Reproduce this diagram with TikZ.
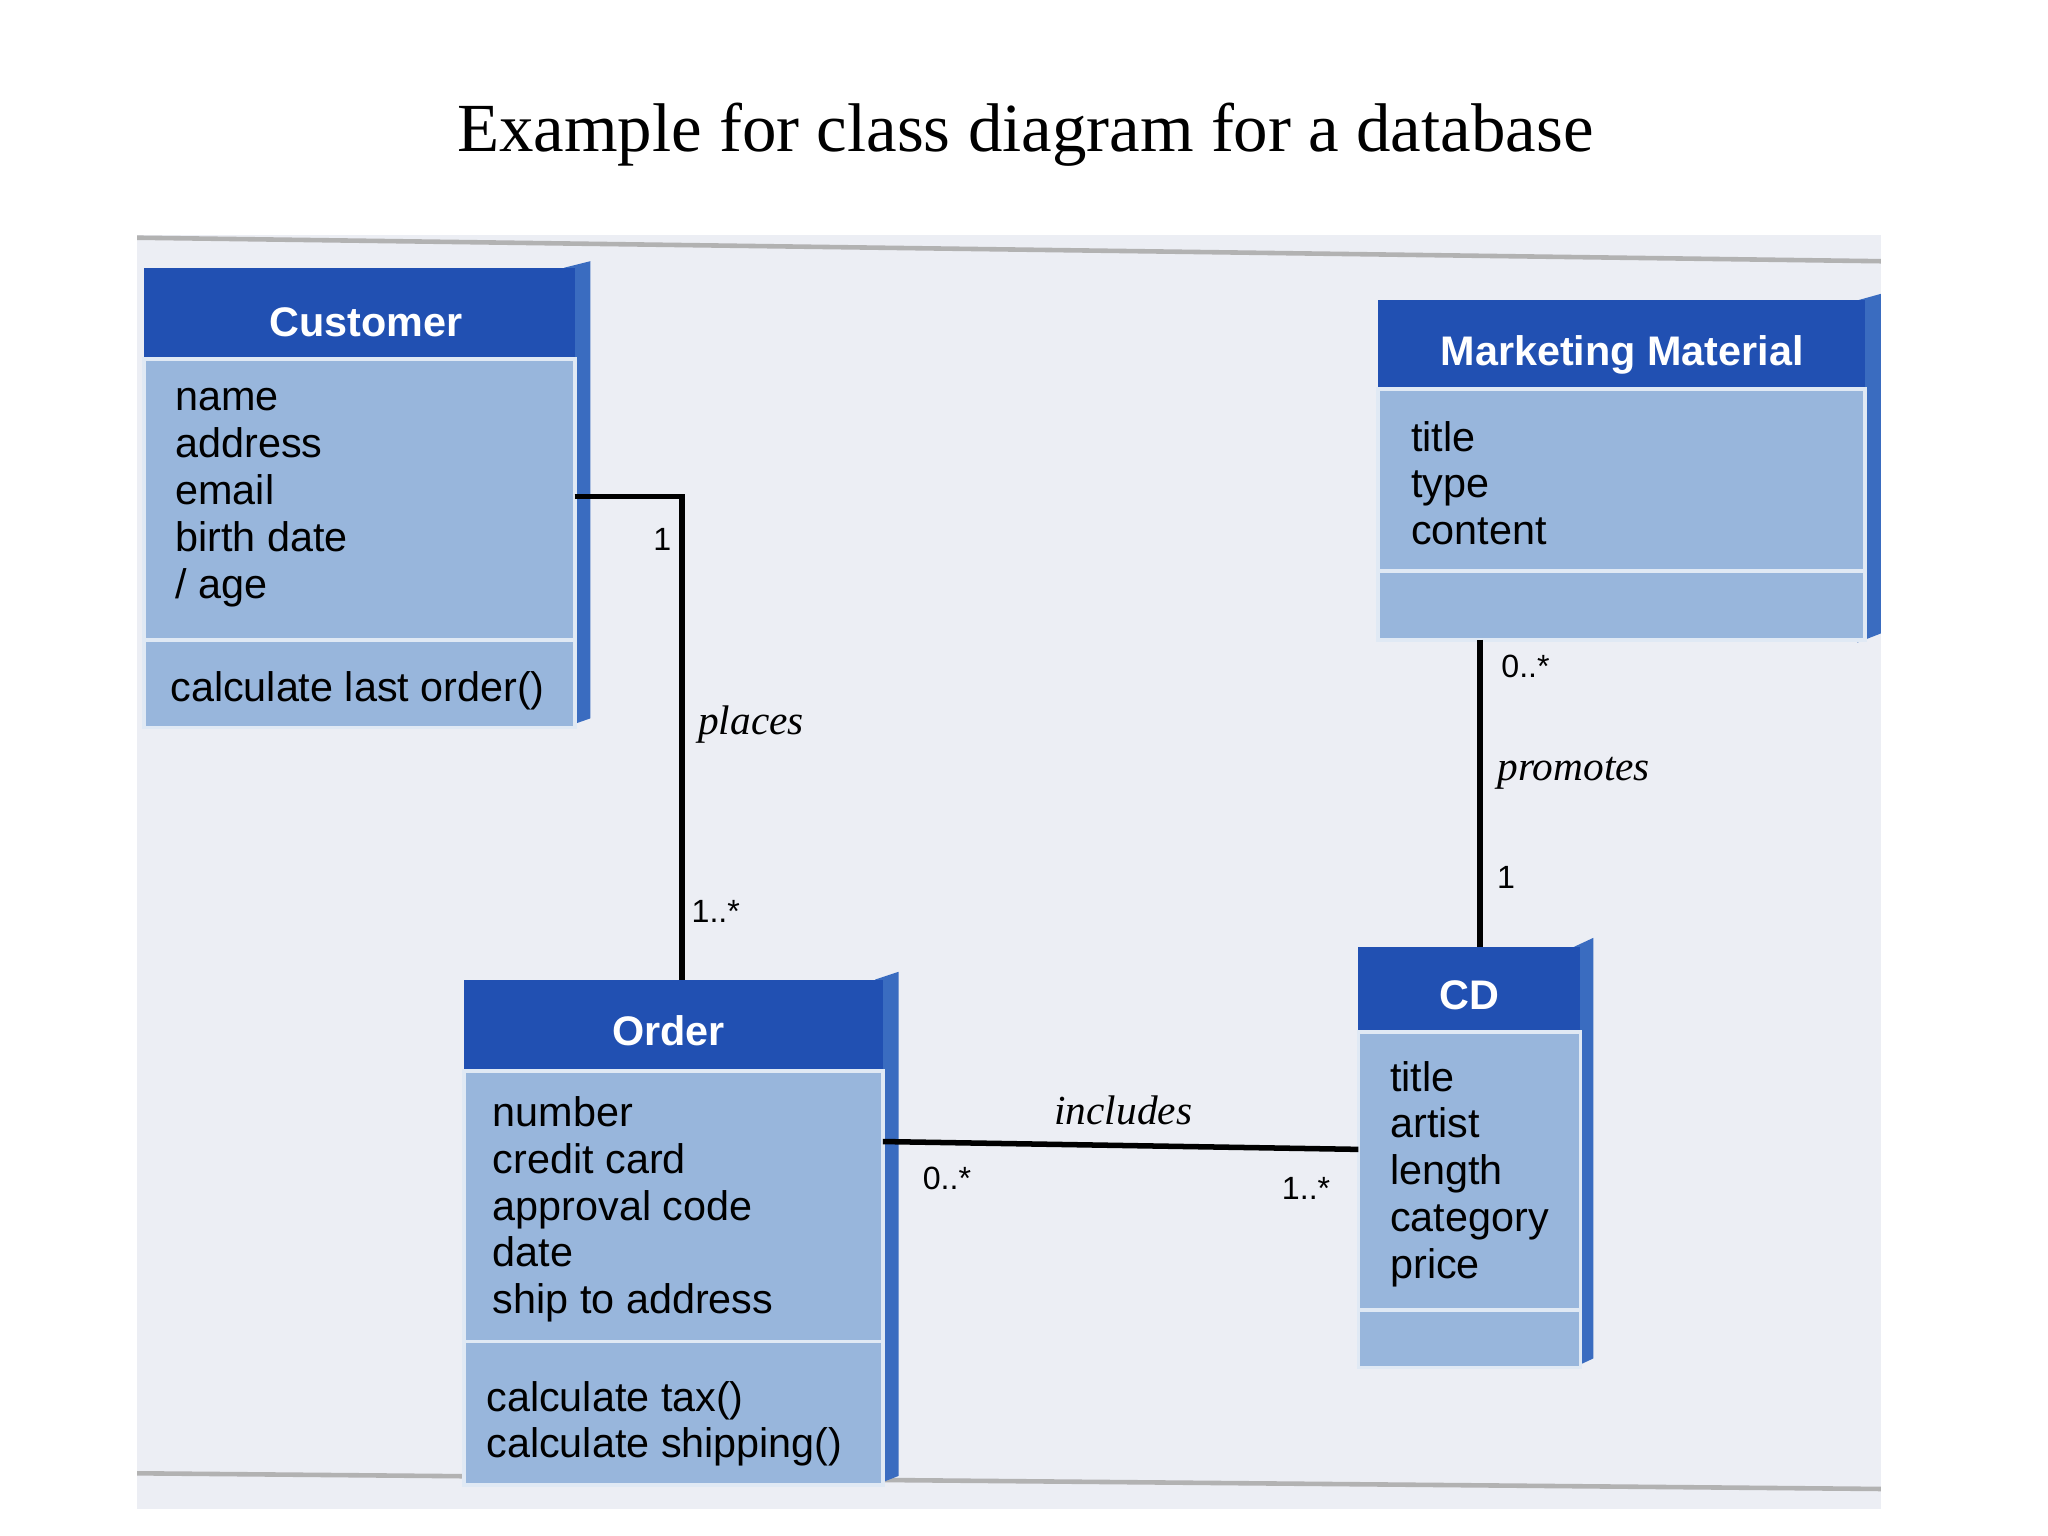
\documentclass[tikz,border=0pt]{standalone}
\usepackage{fontspec}
\setmainfont{Liberation Serif}
\newfontfamily\boxfont{Liberation Sans}
\definecolor{hdrblue}{HTML}{2150B2}
\definecolor{cmpblue}{HTML}{98B6DC}
\definecolor{edgeblue}{HTML}{3A6CC0}
\definecolor{bgpage}{HTML}{ECEEF4}
\begin{document}
\begin{tikzpicture}[x=0.01cm,y=-0.01cm,
  hdr/.style={fill=hdrblue,draw=none},
  cmp/.style={fill=cmpblue,draw=white!70!cmpblue,line width=0.8pt},
  edge3d/.style={fill=edgeblue,draw=none},
  htxt/.style={text=white,font=\boxfont\bfseries\fontsize{9}{11}\selectfont},
  atxt/.style={anchor=north west,align=left,font=\boxfont\fontsize{9}{10.2}\selectfont},
  conn/.style={draw=black,line width=1.2pt},
  lbl/.style={font=\boxfont\fontsize{7}{8}\selectfont},
  ilbl/.style={font=\itshape\fontsize{9}{10}\selectfont}]
\useasboundingbox (0,0) rectangle (1568,1176);
\fill[white] (0,0) rectangle (1568,1176);
\fill[bgpage] (105,180) rectangle (1440,1155);
\draw[gray!60,line width=1pt] (105,182) -- (1440,200);
\draw[gray!60,line width=1pt] (105,1128) -- (1440,1140);
\node[font=\fontsize{15}{18}\selectfont] (title) at (785,103) {Example for class diagram for a database};

% Customer
\fill[edge3d] (432,205) -- (452,200) -- (452,550) -- (432,557) -- cycle;
\fill[hdr] (110,205) rectangle (440,275);
\fill[cmp] (110,275) rectangle (440,490);
\fill[cmp] (110,490) rectangle (440,557);
\node[htxt] (cust) at (280,247) {Customer};
\node[atxt] (custattr) at (122,285) {name\\address\\email\\birth date\\/ age};
\node[atxt] (custops) at (118,502) {calculate last order()};

% Marketing Material
\fill[edge3d] (1422,230) -- (1440,225) -- (1440,485) -- (1422,492) -- cycle;
\fill[hdr] (1055,230) rectangle (1428,298);
\fill[cmp] (1055,298) rectangle (1428,437);
\fill[cmp] (1055,437) rectangle (1428,490);
\node[htxt] (mm) at (1242,272) {Marketing Material};
\node[atxt] (mmattr) at (1068,310) {title\\type\\content};

% Order
\fill[edge3d] (670,750) -- (688,744) -- (688,1130) -- (670,1137) -- cycle;
\fill[hdr] (355,750) rectangle (676,820);
\fill[cmp] (355,820) rectangle (676,1027);
\fill[cmp] (355,1027) rectangle (676,1137);
\node[htxt] (order) at (512,789) {Order};
\node[atxt] (orderattr) at (365,827) {number\\credit card\\approval code\\date\\ship to address};
\node[atxt] (orderops) at (360,1045) {calculate tax()\\calculate shipping()};

% CD
\fill[edge3d] (1205,725) -- (1220,718) -- (1220,1040) -- (1205,1047) -- cycle;
\fill[hdr] (1040,725) rectangle (1210,790);
\fill[cmp] (1040,790) rectangle (1210,1003);
\fill[cmp] (1040,1003) rectangle (1210,1047);
\node[htxt] (cd) at (1125,762) {CD};
\node[atxt] (cdattr) at (1052,800) {title\\artist\\length\\category\\price};

% connectors
\coordinate (c1) at (440,380);
\coordinate (c2) at (522,380);
\coordinate (o1) at (516,750);
\draw[conn] (c1) -- (c2) -- (c2 |- o1);
\node[lbl] (l1) at (507,413) {1};
\node[ilbl] (lp) at (575,555) {places};
\node[lbl] (l2) at (548,698) {1..*};

\coordinate (m1) at (1133,490);
\coordinate (d1) at (1133,725);
\draw[conn] (m1) -- (d1);
\node[lbl] (l3) at (1168,510) {0..*};
\node[ilbl] (lpr) at (1205,592) {promotes};
\node[lbl] (l4) at (1153,672) {1};

\coordinate (o2) at (676,874);
\coordinate (d2) at (1040,880);
\draw[conn] (o2) -- (d2);
\node[ilbl] (li) at (860,850) {includes};
\node[lbl] (l5) at (725,902) {0..*};
\node[lbl] (l6) at (1000,910) {1..*};
\end{tikzpicture}
\end{document}
